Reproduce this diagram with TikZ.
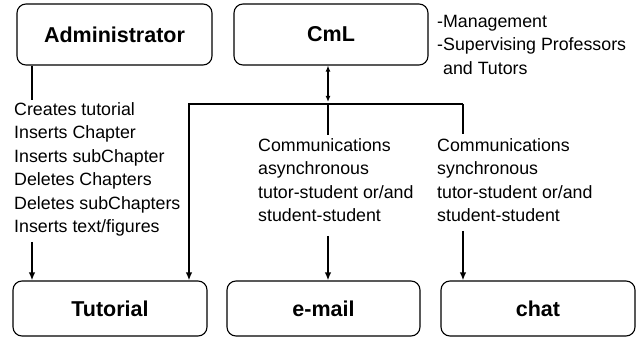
\documentclass[tikz,border=0pt]{standalone}
\usepackage{fontspec}
\setmainfont{Liberation Sans}
\usetikzlibrary{arrows.meta}
\begin{document}
\begin{tikzpicture}[x=1pt,y=1pt,
  box/.style={draw, line width=1.1pt, rounded corners=9pt, inner sep=0pt, font=\fontsize{21.5}{24}\selectfont\bfseries},
  desc/.style={anchor=north west, inner sep=0pt, align=left, font=\fontsize{17.8}{23.5}\selectfont},
  conn/.style={line width=2pt},
  arr/.style={line width=2pt, -{Latex[length=8pt,width=6.5pt]}},
  darr/.style={line width=1.8pt, {Latex[length=6pt,width=5pt]}-{Latex[length=6pt,width=5pt]}}]
\useasboundingbox (0,0) rectangle (638,337);
\fill[white] (0,0) rectangle (638,337);
% boxes
\node[box, minimum width=195pt, minimum height=61pt] (admin) at (114.5,302.5) {Administrator};
\node[box, minimum width=194pt, minimum height=61pt] (cml) at (331,302.5) {CmL};
\node[box, minimum width=194pt, minimum height=55pt] (tut) at (110,28.5) {Tutorial};
\node[box, minimum width=193pt, minimum height=55pt] (mail) at (323.5,28.5) {e-mail};
\node[box, minimum width=194pt, minimum height=55pt] (chat) at (538,28.5) {chat};
% texts
\node[desc] (mgmt) at (437,322) {-Management\\-Supervising Professors\\\phantom{-}and Tutors};
\node[desc] (adtext) at (14,235) {Creates tutorial\\Inserts Chapter\\Inserts subChapter\\Deletes Chapters\\Deletes subChapters\\Inserts text/figures};
\node[desc] (async) at (258,199) {Communications\\asynchronous\\tutor-student or/and\\student-student};
\node[desc] (sync) at (437,199) {Communications\\synchronous\\tutor-student or/and\\student-student};
% junction coordinates
\coordinate (j1) at (189,233);
\coordinate (j2) at (328,233);
\coordinate (j3) at (463,233);
\coordinate (a1) at (32,237);
\coordinate (a2) at (32,95);
\coordinate (m1) at (328,202);
\coordinate (m2) at (328,101);
\coordinate (s1) at (463,203);
\coordinate (s2) at (463,106);
\coordinate (t1) at (j1 |- tut.north);
% connectors
\draw[conn] (admin.south -| a1) -- (a1);
\draw[arr] (a2) -- (a2 |- tut.north);
\draw[arr] (j3) -- (j1) -- (t1);
\draw[conn] (j3) -- (s1);
\draw[conn] (j2) -- (m1);
\draw[darr] (j2 |- cml.south) -- ([yshift=2pt]j2);
\draw[arr] (m2) -- (m2 |- mail.north);
\draw[arr] (s2) -- (s2 |- chat.north);
\end{tikzpicture}
\end{document}
